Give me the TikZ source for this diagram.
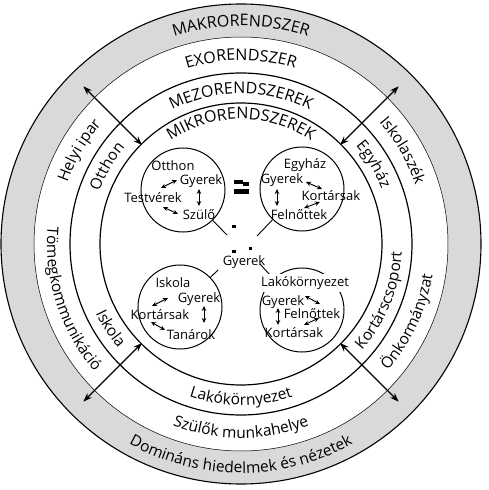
\documentclass[tikz,border=0pt]{standalone}
\usepackage{fontspec}
\setmainfont{Open Sans}
\usetikzlibrary{decorations.text,arrows.meta}
\newcommand\upf{\fontsize{16}{18}\selectfont}
\newcommand\rgf{\fontsize{15.5}{17}\selectfont}
\newcommand\lbf{\fontsize{13}{15}\selectfont}
\newcommand\cwt[4]{\path[decorate,decoration={text along path,text align=center,text={|#4|#1}}] ({#3+80}:#2) arc[start angle={#3+80},end angle={#3-80},radius=#2];}
\newcommand\ccwt[4]{\path[decorate,decoration={text along path,text align=center,text={|#4|#1}}] ({#3-80}:#2) arc[start angle={#3-80},end angle={#3+80},radius=#2];}
\begin{document}
\begin{tikzpicture}[x=1pt,y=1pt,
  ringline/.style={line width=1.2pt},
  lbl/.style={font=\lbf, inner sep=0pt},
  smallc/.style={circle, draw, line width=1pt, minimum size=84pt, inner sep=0pt},
  bigarr/.style={{Stealth[length=9pt,width=6.5pt]}-{Stealth[length=9pt,width=6.5pt]}, line width=1.2pt},
  smarr/.style={{Stealth[length=5pt,width=4.5pt]}-{Stealth[length=5pt,width=4.5pt]}, line width=0.9pt},
  conn/.style={line width=0.9pt},
  blk/.style={fill=black}]
\useasboundingbox (-241,-246) rectangle (248,244);
% rings
\fill[black!15, even odd rule] (0,0) circle (240) (0,0) circle (207);
\draw[line width=1.1pt] (0,0) circle (240);
\draw[line width=0.5pt] (0,0) circle (207);
\draw[ringline] (0,0) circle (171);
\draw[ringline] (0,0) circle (141);
% ring texts
\cwt{MAKRORENDSZER}{218}{90}{\upf}
\cwt{EXORENDSZER}{183.5}{90}{\upf}
\cwt{MEZORENDSZEREK}{150.5}{90}{\upf}
\cwt{MIKRORENDSZEREK}{125}{90}{\upf}
\ccwt{Domináns hiedelmek és nézetek}{229}{270}{\rgf}
\ccwt{Szülők munkahelye}{194}{270}{\rgf}
\ccwt{Lakókörnyezet}{161}{270}{\rgf}
\cwt{Helyi ipar}{184}{150}{\rgf}
\cwt{Otthon}{151}{150}{\rgf}
\ccwt{Tömegkommunikáció}{194}{198}{\rgf}
\ccwt{Iskola}{161}{213}{\rgf}
\cwt{Iskolaszék}{184}{30}{\rgf}
\cwt{Egyház}{151}{31}{\rgf}
\ccwt{Kortárscsoport}{161}{-22}{\rgf}
\ccwt{Önkormányzat}{194}{-25}{\rgf}
% big arrows
\foreach \a/\n in {45/ne,135/nw,225/sw,315/se}{
  \coordinate (\n i) at (\a:140);
  \coordinate (\n o) at (\a:223);
}
\draw[bigarr] (nwi) -- (nwo);
\draw[bigarr] (nei) -- (neo);
\draw[bigarr] (swi) -- (swo);
\draw[bigarr] (sei) -- (seo);
% small circles
\node[smallc] (cO) at (-58,54) {};
\node[smallc] (cE) at (61,55) {};
\node[smallc] (cI) at (-61,-63) {};
\node[smallc] (cL) at (61,-66) {};
% center
\node[lbl] (gC) at (3,-18) {Gyerek};
\coordinate (inO) at (-14,9);
\coordinate (inE) at (16,8);
\coordinate (inI) at (-23,-26);
\coordinate (inL) at (19,-20);
\draw[conn] (inO) -- (cO);
\draw[conn] (inE) -- (cE);
\draw[conn] (inI) -- (cI);
\draw[conn] (inL) -- (cL);
% marks
\fill[blk] (-7,64) rectangle (2,60);
\fill[blk] (2,62) rectangle (8,58);
\fill[blk] (-7,55) rectangle (8,50);
\fill[blk] (-9,16) rectangle (-5.5,19.5);
\fill[blk] (-9,-9) rectangle (-5.5,-5.5);
\fill[blk] (7.5,-6) rectangle (11,-2.5);
% Otthon circle
\node[lbl] (oT) at (-68,78) {Otthon};
\node[lbl] (oG) at (-40,63) {Gyerek};
\node[lbl] (oV) at (-88,46) {Testvérek};
\node[lbl] (oS) at (-42,29) {Szülő};
\coordinate (oa1) at (-80,56); \coordinate (oa2) at (-64,64);
\coordinate (ob1) at (-42,55); \coordinate (ob2) at (-42,38);
\coordinate (oc1) at (-78,37); \coordinate (oc2) at (-63,30);
\draw[smarr] (oa1) -- (oa2);
\draw[smarr] (ob1) -- (ob2);
\draw[smarr] (oc1) -- (oc2);
% Egyhaz circle
\node[lbl] (eT) at (64,79) {Egyház};
\node[lbl] (eG) at (41,64) {Gyerek};
\node[lbl] (eK) at (90,48) {Kortársak};
\node[lbl] (eF) at (58,29) {Felnőttek};
\coordinate (ea1) at (65,62); \coordinate (ea2) at (81,55);
\coordinate (eb1) at (36,55); \coordinate (eb2) at (36,38);
\coordinate (ec1) at (63,36); \coordinate (ec2) at (79,42);
\draw[smarr] (ea1) -- (ea2);
\draw[smarr] (eb1) -- (eb2);
\draw[smarr] (ec1) -- (ec2);
% Iskola circle
\node[lbl] (iT) at (-68,-39) {Iskola};
\node[lbl] (iG) at (-42,-55) {Gyerek};
\node[lbl] (iK) at (-81,-71) {Kortársak};
\node[lbl] (iN) at (-50,-91) {Tanárok};
\coordinate (ia1) at (-89,-62); \coordinate (ia2) at (-73,-54);
\coordinate (ib1) at (-37,-62); \coordinate (ib2) at (-37,-79);
\coordinate (ic1) at (-90,-78); \coordinate (ic2) at (-76,-86);
\draw[smarr] (ia1) -- (ia2);
\draw[smarr] (ib1) -- (ib2);
\draw[smarr] (ic1) -- (ic2);
% Lakokornyezet circle
\node[lbl, fill=white, inner sep=2pt] (lT) at (64,-39) {Lakókörnyezet};
\node[lbl] (lG) at (42,-58) {Gyerek};
\node[lbl] (lF) at (71,-70) {Felnőttek};
\node[lbl] (lK) at (53,-89) {Kortársak};
\coordinate (la1) at (64,-52); \coordinate (la2) at (79,-60);
\coordinate (lb1) at (37,-64); \coordinate (lb2) at (37,-81);
\coordinate (lc1) at (63,-81); \coordinate (lc2) at (78,-74);
\draw[smarr] (la1) -- (la2);
\draw[smarr] (lb1) -- (lb2);
\draw[smarr] (lc1) -- (lc2);
\end{tikzpicture}
\end{document}
